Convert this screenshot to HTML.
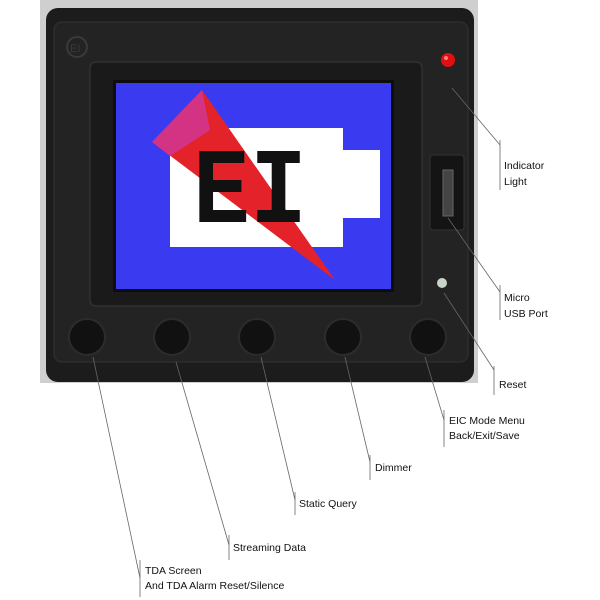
<!DOCTYPE html>
<html><head><style>
body{margin:0;width:600px;height:600px;background:#fff;overflow:hidden}
svg{display:block}
text{font-family:"Liberation Sans",sans-serif;font-size:10.5px;fill:#111}
</style></head><body>
<svg width="600" height="600" viewBox="0 0 600 600">
<rect x="40" y="0" width="438" height="383" fill="#cfcfcf"/>
<rect x="46" y="8" width="428" height="374" rx="12" fill="#1c1c1c"/>
<rect x="54" y="22" width="414" height="340" rx="8" fill="#232323" stroke="#333" stroke-width="1"/>
<rect x="90" y="62" width="332" height="244" rx="6" fill="#1a1a1a" stroke="#3a3a3a"/>
<rect x="113" y="80" width="281" height="212" fill="#0d0d0d"/>
<rect x="116" y="83" width="275" height="206" fill="#3a3af0"/>
<polygon points="170,128 343,128 343,150 380,150 380,218 343,218 343,247 170,247" fill="#fff"/>
<polygon points="202,90 152,142 335,280" fill="#e3222a"/>
<polygon points="202,90 152,142 170,156 210,130" fill="#d0389a" opacity="0.8"/>
<text x="193" y="222" textLength="114" lengthAdjust="spacingAndGlyphs" style="font-family:'Liberation Mono',monospace;font-size:108px;font-weight:bold;fill:#111">EI</text>
<circle cx="77" cy="47" r="10" fill="none" stroke="#3a3a3a" stroke-width="2"/>
<text x="70" y="52" style="font-size:11px;fill:#3a3a3a">EI</text>
<circle cx="448" cy="60" r="7" fill="#e01010"/>
<circle cx="446" cy="58" r="2" fill="#ff8080"/>
<rect x="430" y="155" width="34" height="75" rx="3" fill="#141414" stroke="#333"/>
<rect x="443" y="170" width="10" height="46" fill="#444" stroke="#666"/>
<circle cx="442" cy="283" r="5" fill="#c9d4c9"/>
<g fill="#111" stroke="#2c2c2c" stroke-width="2">
<circle cx="87" cy="337" r="18"/><circle cx="172" cy="337" r="18"/><circle cx="257" cy="337" r="18"/><circle cx="343" cy="337" r="18"/><circle cx="428" cy="337" r="18"/>
</g>
<g stroke="#666" stroke-width="0.8" fill="none">
<line x1="452" y1="88" x2="500" y2="145"/><line x1="500" y1="140" x2="500" y2="190"/>
<line x1="448" y1="218" x2="500" y2="292"/><line x1="500" y1="285" x2="500" y2="320"/>
<line x1="444" y1="293" x2="494" y2="370"/><line x1="494" y1="366" x2="494" y2="395"/>
<line x1="93" y1="357" x2="140" y2="578"/><line x1="140" y1="560" x2="140" y2="597"/>
<line x1="176" y1="362" x2="229" y2="545"/><line x1="229" y1="535" x2="229" y2="560"/>
<line x1="261" y1="357" x2="295" y2="500"/><line x1="295" y1="492" x2="295" y2="515"/>
<line x1="345" y1="357" x2="370" y2="462"/><line x1="370" y1="455" x2="370" y2="480"/>
<line x1="425" y1="357" x2="444" y2="420"/><line x1="444" y1="410" x2="444" y2="447"/>
</g>
<text x="504" y="169">Indicator</text><text x="504" y="185">Light</text>
<text x="504" y="301">Micro</text><text x="504" y="317">USB Port</text>
<text x="499" y="388">Reset</text>
<text x="449" y="424">EIC Mode Menu</text><text x="449" y="439">Back/Exit/Save</text>
<text x="375" y="471">Dimmer</text>
<text x="299" y="507">Static Query</text>
<text x="233" y="551">Streaming Data</text>
<text x="145" y="574">TDA Screen</text><text x="145" y="589">And TDA Alarm Reset/Silence</text>
</svg>
</body></html>
